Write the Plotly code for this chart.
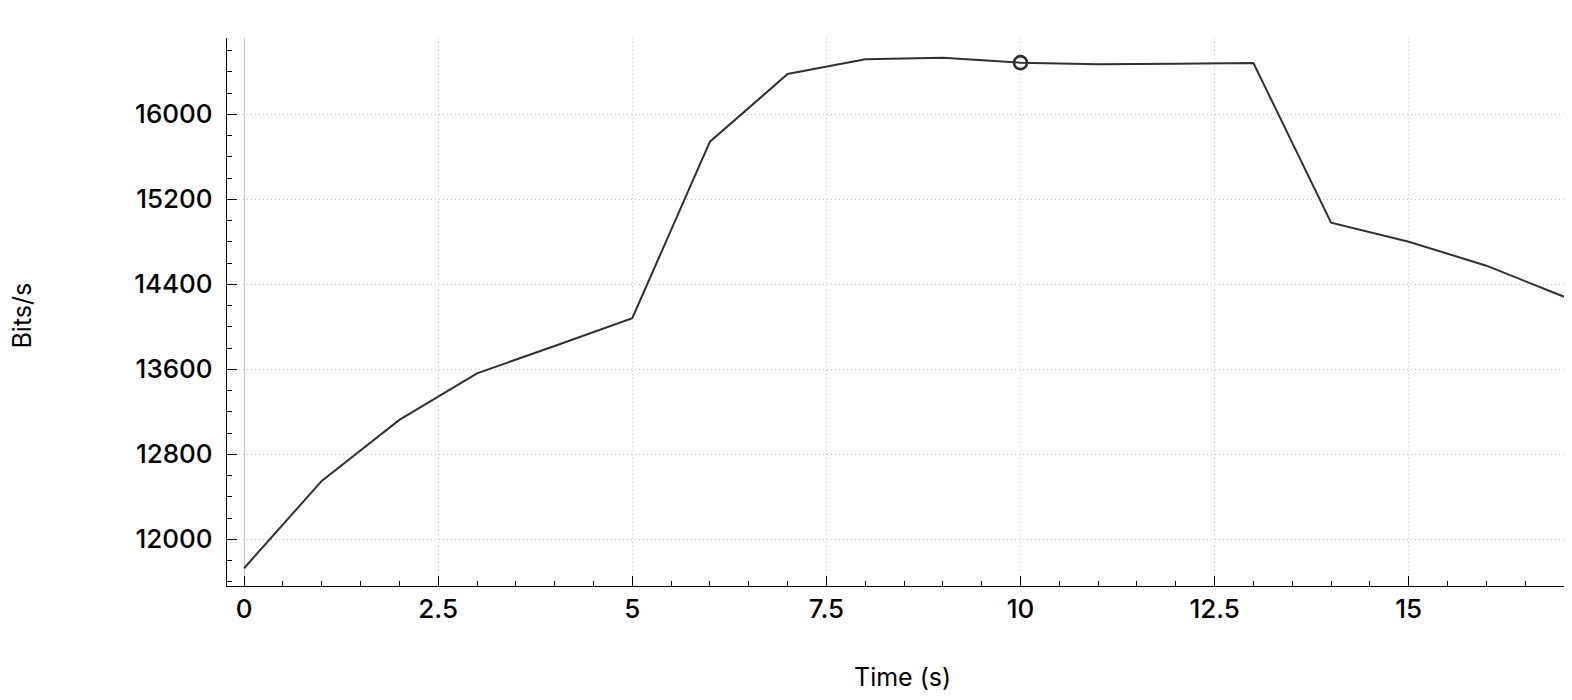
import plotly.graph_objects as go

time_s = [0, 1, 2, 3, 4, 5, 6, 7, 8, 9, 10, 11, 12, 13, 14, 15, 16, 17]
bits_per_s = [11727, 12549, 13123, 13562, 13819, 14080, 15742, 16379, 16518,
              16533, 16486, 16471, 16476, 16483, 14980, 14801, 14575, 14283]
marker_x = [10]
marker_y = [16486]

y_ticks = [12000, 12800, 13600, 14400, 15200, 16000]
x_ticks = [0, 2.5, 5, 7.5, 10, 12.5, 15]

FONT = "Inter"
# page body has an 8px margin; keep the figure inside the 1572x700 window
W, H = 1556, 684
L, R, T, B = 219, 0, 30, 106
PW, PH = W - L - R, H - T - B

fig = go.Figure()
fig.add_trace(go.Scatter(
    x=time_s, y=bits_per_s, mode="lines",
    line=dict(color="#2e3032", width=2), showlegend=False, hoverinfo="x+y"))
fig.add_trace(go.Scatter(
    x=marker_x, y=marker_y, mode="markers",
    marker=dict(symbol="circle-open", size=13, color="#2e3032",
                line=dict(width=2.6, color="#2e3032")),
    showlegend=False))

fig.update_layout(
    width=W, height=H,
    margin=dict(l=L, r=R, t=T, b=B, autoexpand=False),
    paper_bgcolor="white", plot_bgcolor="white",
    font=dict(family=FONT, size=26, color="black", weight=500),
)

fig.update_xaxes(
    range=[-0.22, 17], tickvals=x_ticks, ticktext=[str(v) for v in x_ticks],
    ticks="inside", ticklen=10, tickcolor="black", tickwidth=1,
    showline=True, linecolor="black", linewidth=1.3,
    showgrid=True, gridcolor="#c4c4c4", griddash="1px,3px", gridwidth=1,
    zeroline=True, zerolinecolor="#c8c8c8", zerolinewidth=1.3,
    minor=dict(ticks="inside", ticklen=5, dtick=0.5, tick0=0,
               tickcolor="black", showgrid=False),
    automargin=False, ticklabelstandoff=0,
)
fig.update_yaxes(
    range=[11560, 16718], tickvals=y_ticks, ticktext=[str(v) for v in y_ticks],
    ticks="inside", ticklen=10, tickcolor="black", tickwidth=1,
    showline=True, linecolor="black", linewidth=1.3,
    showgrid=True, gridcolor="#c4c4c4", griddash="1px,3px", gridwidth=1,
    zeroline=False,
    minor=dict(ticks="inside", ticklen=5, dtick=200, tick0=0,
               tickcolor="black", showgrid=False),
    automargin=False, ticklabelstandoff=8,
)

fig.add_annotation(
    text="Time (s)", xref="paper", yref="paper",
    x=(902 - 227) / PW, y=0, xanchor="center", yanchor="middle",
    yshift=-(677 - 586), showarrow=False, font=dict(size=25, weight=400))
fig.add_annotation(
    text="Bits/s", xref="paper", yref="paper",
    x=(21.5 - 227) / PW, y=(586 - 316) / PH, xanchor="center", yanchor="middle",
    textangle=-90, showarrow=False, font=dict(size=25, weight=400))

fig.write_html("out.html")
